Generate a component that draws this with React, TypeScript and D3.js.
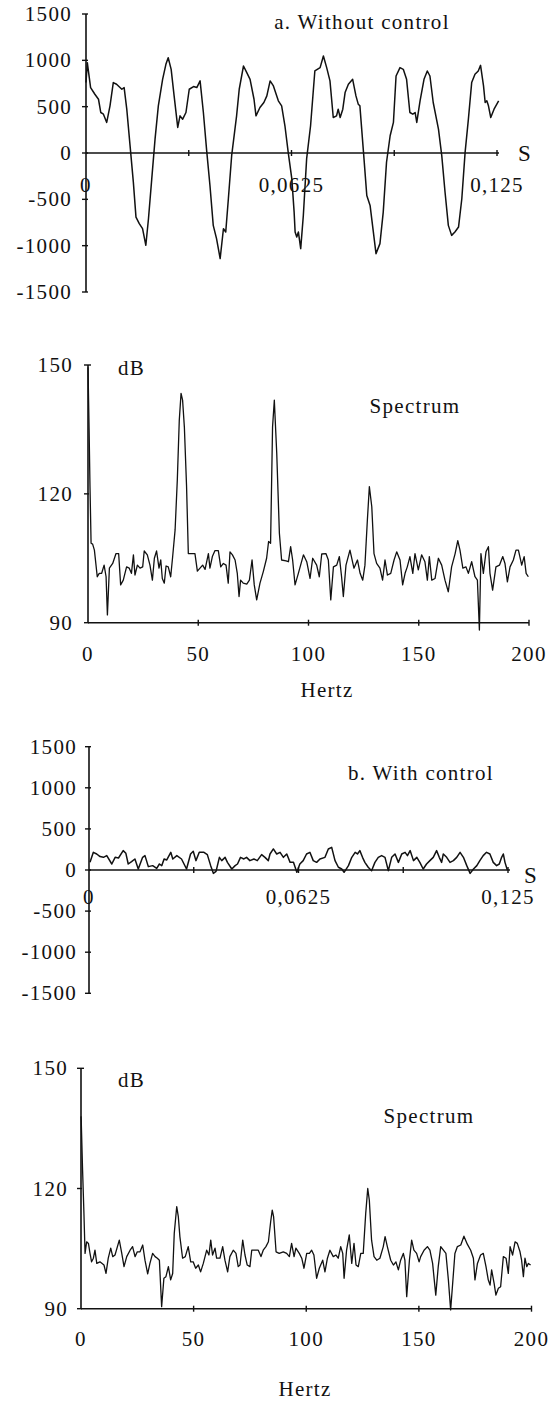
import React from "react";
import * as d3 from "d3";

// a. without control — time (ms) vs amplitude
const signalA: [number, number][] = [
  [0, 760], [0.4, 975], [1.4, 706], [2.7, 634], [3.8, 580], [4.5, 437], [5.3, 419], [6.3, 330], [7.3, 509], [8.3, 760],
  [9.3, 742], [10.9, 688], [11.6, 706], [12.4, 473], [13.4, 79], [14.4, -315], [15.2, -692], [16.2, -763], [17.2, -817],
  [18.2, -996], [19.0, -709], [20.0, -279], [21.0, 150], [22.0, 509], [23.3, 795], [24.3, 957], [25.0, 1028], [25.9, 903],
  [26.8, 616], [27.9, 276], [28.6, 401], [29.4, 365], [30.4, 437], [31.4, 688], [32.7, 717], [33.7, 706], [34.7, 778],
  [35.7, 437], [36.7, 25], [37.7, -351], [38.7, -781], [39.7, -924], [40.8, -1139], [41.8, -817], [42.5, -853], [43.3, -494],
  [44.3, -29], [45.8, 401], [46.6, 688], [47.9, 939], [48.9, 867], [49.9, 795], [51.1, 580], [51.7, 401], [52.9, 491],
  [54.1, 545], [55.0, 616], [56.0, 778], [57.0, 724], [58.5, 563], [59.5, 509], [60.5, 294], [61.5, 7], [62.6, -279],
  [63.3, -638], [63.6, -853], [64.1, -906], [64.6, -853], [65.3, -1032], [66.1, -674], [67.1, -64], [68.3, 294], [69.6, 885],
  [71.2, 921], [72.2, 1046], [73.2, 921], [74.2, 778], [75.2, 383], [76.2, 401], [76.7, 473], [77.3, 383], [78.1, 473],
  [78.8, 652], [79.8, 742], [81.1, 795], [82.1, 616], [82.8, 527], [83.3, 509], [84.4, 7], [85.4, -459], [86.4, -566],
  [87.4, -853], [88.2, -1086], [89.4, -978], [90.4, -638], [91.4, -100], [92.5, 186], [93.5, 330], [94.3, 831], [95.5, 921],
  [96.5, 903], [97.5, 795], [98.5, 437], [99.4, 419], [100.1, 437], [100.6, 330], [101.6, 563], [102.8, 795], [103.8, 885],
  [104.6, 831], [105.6, 545], [107.2, 258], [108.2, -29], [109.2, -423], [110.2, -781], [111.2, -889], [112.2, -853],
  [113.3, -799], [114.3, -494], [115.3, 7], [116.3, 365], [117.3, 760], [118.3, 849], [119.3, 885], [120.0, 946],
  [120.9, 724], [121.4, 545], [121.9, 563], [122.4, 509], [123.1, 383], [124.1, 473], [125.5, 563],
];

// a. spectrum — Hz vs dB
const spectrumA: [number, number][] = [
  [0, 149.5], [0.5, 135], [0.9, 121.7], [1.4, 108.5], [2.1, 108.3], [2.9, 106.9], [4.2, 100.7], [5.1, 101.5], [6.2, 101.5],
  [7.3, 103.4], [8.2, 100.7], [8.8, 91.8], [9.7, 102.7], [11.2, 103.8], [12.7, 106.1], [13.9, 106.1], [14.8, 98.8],
  [16.0, 99.9], [17.5, 103.0], [18.7, 102.7], [19.7, 101.5], [20.6, 105.8], [21.3, 101.1], [22.4, 103.4], [23.6, 102.7],
  [24.8, 103.0], [25.5, 106.7], [26.9, 105.8], [28.1, 103.4], [29.2, 99.9], [30.1, 105.0], [31.1, 106.7], [32.2, 102.7],
  [33.0, 104.6], [33.7, 100.3], [34.6, 99.2], [35.4, 103.2], [36.4, 103.0], [37.5, 100.7], [38.4, 105.4], [39.5, 111.6],
  [40.5, 123.2], [41.4, 137.2], [42.2, 143.4], [42.9, 141.8], [43.7, 135.6], [44.7, 121.7], [45.5, 106.1], [47.0, 106.1],
  [48.5, 106.1], [49.6, 102.0], [50.8, 102.7], [52.0, 103.4], [53.1, 102.4], [54.6, 106.1], [55.3, 102.7], [56.4, 105.4],
  [57.6, 106.8], [59.1, 106.8], [60.2, 103.0], [61.4, 103.8], [62.6, 103.4], [63.6, 99.2], [64.4, 106.5], [65.5, 105.8],
  [66.7, 104.6], [67.7, 101.5], [68.5, 96.1], [69.2, 99.9], [70.4, 99.2], [72.0, 99.0], [73.2, 99.9], [74.4, 104.6],
  [75.4, 98.8], [76.5, 95.3], [78.0, 99.2], [79.5, 101.9], [81.0, 105.0], [81.9, 108.9], [82.8, 108.5], [83.7, 135.6],
  [84.5, 141.8], [85.6, 129.4], [86.8, 110.8], [87.8, 104.6], [89.8, 104.4], [90.9, 104.2], [91.9, 107.7], [92.8, 104.6],
  [93.9, 98.8], [95.4, 101.5], [97.7, 105.8], [99.2, 104.2], [100.7, 100.3], [101.9, 105.0], [103.7, 103.4], [104.9, 100.7],
  [106.0, 106.0], [107.9, 106.1], [109.0, 104.6], [110.1, 95.3], [111.3, 103.0], [112.8, 103.4], [114.0, 105.4],
  [115.0, 100.7], [115.8, 96.1], [117.0, 103.4], [118.8, 106.9], [120.6, 102.7], [122.2, 104.6], [123.4, 101.5],
  [124.6, 99.9], [125.6, 103.4], [126.7, 113.9], [127.6, 121.7], [128.7, 117.0], [129.7, 106.1], [130.9, 103.8],
  [132.4, 102.7], [133.6, 99.9], [134.7, 104.6], [135.8, 101.1], [137.3, 101.5], [138.8, 104.6], [140.0, 106.5],
  [141.5, 104.6], [142.7, 98.8], [143.8, 101.5], [144.8, 103.0], [146.0, 105.4], [147.3, 101.5], [148.3, 106.1],
  [149.8, 102.3], [151.3, 105.8], [152.8, 104.2], [153.9, 99.9], [154.8, 105.4], [155.9, 99.9], [157.4, 100.3],
  [158.9, 105.0], [160.4, 103.4], [161.9, 99.9], [163.4, 97.2], [164.9, 103.0], [166.5, 106.1], [167.7, 109.1],
  [168.7, 106.9], [170.0, 102.7], [171.4, 103.0], [172.5, 101.5], [174.0, 104.2], [175.5, 100.7], [176.6, 99.9],
  [177.5, 88.3], [178.2, 106.1], [179.3, 101.5], [180.5, 106.5], [181.6, 107.7], [182.3, 101.5], [183.5, 97.6],
  [185.0, 103.0], [186.6, 103.4], [188.1, 105.4], [189.1, 103.8], [190.2, 99.5], [191.4, 103.0], [192.9, 104.6],
  [194.1, 106.9], [195.2, 106.9], [196.7, 103.4], [197.8, 105.4], [198.7, 101.5], [199.7, 100.7],
];

// b. with control — time (ms) vs amplitude
const signalB: [number, number][] = [
  [0.3, 93], [1.3, 215], [2.3, 195], [3.3, 163], [4.3, 154], [5.3, 175], [6.8, 73], [7.8, 154], [8.8, 146], [10.2, 236],
  [11.0, 203], [11.7, 73], [12.7, 102], [13.7, 134], [14.7, 12], [16.0, 154], [16.7, 175], [17.7, 41], [19.0, 53],
  [20.2, 20], [21.0, 73], [21.7, 53], [22.4, 134], [23.2, 122], [24.4, 215], [25.0, 134], [26.2, 175], [27.6, 134],
  [29.1, 12], [30.3, 195], [31.1, 228], [31.9, 114], [32.9, 215], [34.3, 215], [35.3, 187], [36.3, 53], [37.1, -41],
  [37.9, -16], [38.9, 154], [39.6, 114], [40.6, 154], [41.3, 93], [42.6, 12], [43.6, 53], [44.3, 73], [45.2, 154],
  [46.2, 134], [47.0, 154], [48.0, 114], [49.2, 134], [50.2, 114], [51.5, 187], [52.5, 154], [53.5, 114], [54.0, 195],
  [55.0, 256], [56.0, 195], [57.0, 215], [58.0, 154], [59.0, 195], [60.0, 93], [61.0, 93], [62.0, -28], [62.9, 73],
  [63.9, 114], [64.9, 195], [65.9, 215], [66.9, 114], [67.9, 93], [68.9, 134], [70.4, 154], [71.4, 256], [72.4, 276],
  [73.4, 114], [74.4, 33], [75.4, 12], [76.1, -28], [77.4, 53], [78.4, 154], [79.4, 215], [80.1, 195], [80.8, 236],
  [81.6, 154], [82.3, 93], [83.3, 33], [84.3, -8], [85.3, 93], [86.3, 154], [87.3, 175], [88.3, 154], [89.3, -8],
  [90.3, 154], [91.3, 195], [92.3, 93], [93.3, 195], [94.3, 215], [95.0, 175], [95.8, 236], [96.8, 114], [97.8, 154],
  [98.7, 93], [99.7, 12], [100.7, 73], [101.7, 114], [102.7, 154], [103.7, 236], [104.5, 154], [105.2, 93], [105.7, 195],
  [106.7, 154], [107.7, 93], [108.7, 114], [109.7, 154], [110.7, 215], [111.7, 154], [112.7, 53], [113.7, -41],
  [114.7, 12], [115.7, 53], [116.6, 114], [117.6, 175], [118.6, 215], [119.6, 195], [120.6, 93], [121.6, 53],
  [122.4, 73], [123.1, 154], [123.6, 195], [124.1, 93], [124.8, 0],
];

// b. spectrum — Hz vs dB
const spectrumB: [number, number][] = [
  [0, 138], [0.1, 137.1], [0.7, 124.6], [1.3, 113.8], [1.8, 103.8], [2.5, 106.7], [3.3, 106.3], [4.0, 103.8], [4.7, 101.7],
  [5.5, 102.6], [6.2, 104.6], [7.0, 101.3], [8.4, 101.7], [10.2, 100.9], [11.1, 98.8], [12.1, 102.6], [13.2, 105.1],
  [14.1, 103.0], [15.1, 103.4], [17.0, 107.1], [18.1, 103.8], [19.1, 100.5], [20.3, 103.0], [21.8, 104.6], [22.9, 105.5],
  [24.0, 103.0], [25.0, 104.2], [26.2, 104.2], [27.4, 105.9], [28.4, 102.1], [29.6, 98.7], [30.6, 101.3], [31.8, 103.8],
  [32.9, 103.0], [33.9, 102.6], [34.8, 102.1], [35.8, 90.5], [36.8, 97.6], [37.7, 98.0], [38.8, 100.5], [39.8, 97.2],
  [40.7, 98.8], [41.4, 108.8], [42.5, 115.5], [43.2, 113.0], [43.9, 108.0], [45.1, 102.6], [46.3, 103.0], [47.6, 105.5],
  [48.7, 101.7], [49.8, 101.7], [50.9, 100.1], [52.1, 100.9], [53.1, 99.2], [54.3, 101.3], [55.8, 104.6], [56.8, 103.4],
  [57.6, 107.1], [58.4, 103.4], [59.5, 105.1], [60.2, 102.6], [61.7, 102.6], [62.9, 105.5], [63.9, 102.1], [65.1, 99.2],
  [66.1, 103.0], [67.6, 104.6], [68.8, 103.8], [69.8, 100.5], [70.6, 100.9], [71.8, 107.1], [72.8, 103.4], [73.8, 100.9],
  [75.0, 100.5], [75.8, 104.6], [77.2, 104.6], [78.7, 104.6], [79.9, 103.0], [80.9, 104.6], [82.1, 105.5], [83.2, 106.7],
  [84.2, 111.7], [84.9, 114.6], [85.5, 113.0], [86.6, 104.2], [88.0, 103.8], [89.8, 104.2], [91.3, 103.8], [92.5, 103.0],
  [93.5, 106.3], [94.6, 103.0], [95.4, 105.1], [96.9, 103.8], [98.0, 102.6], [99.0, 100.1], [100.2, 103.8], [101.4, 103.8],
  [102.4, 104.6], [103.4, 103.4], [104.6, 97.6], [105.8, 100.1], [107.3, 102.1], [108.3, 99.2], [109.4, 102.6],
  [110.5, 104.6], [112.0, 103.0], [113.2, 103.4], [114.2, 102.6], [115.3, 105.5], [116.2, 103.8], [116.8, 97.6],
  [117.9, 104.6], [119.1, 108.4], [120.2, 101.3], [121.2, 106.3], [122.1, 100.9], [123.1, 100.5], [124.2, 103.8],
  [125.3, 103.8], [126.4, 113.8], [127.3, 120.0], [128.0, 117.1], [129.0, 107.1], [130.1, 103.0], [131.3, 102.1],
  [132.7, 102.6], [134.2, 105.5], [135.0, 108.0], [136.0, 105.5], [137.5, 102.1], [138.7, 100.9], [139.8, 101.7],
  [140.9, 99.7], [141.9, 102.1], [143.1, 103.8], [143.8, 102.1], [144.6, 93.0], [145.8, 102.1], [146.8, 107.1],
  [147.8, 104.6], [149.0, 103.8], [150.1, 101.7], [150.8, 103.0], [152.3, 104.6], [153.8, 105.5], [154.9, 104.6],
  [156.1, 101.3], [157.5, 93.4], [158.6, 100.5], [159.7, 105.5], [160.9, 104.6], [162.0, 103.8], [163.1, 97.2],
  [164.1, 89.7], [165.0, 96.3], [166.0, 103.8], [167.1, 105.5], [168.6, 105.9], [170.0, 108.1], [171.5, 106.1],
  [173.0, 104.6], [174.2, 102.6], [174.9, 97.2], [176.0, 101.3], [177.4, 103.4], [178.6, 103.8], [179.8, 100.5],
  [180.8, 97.2], [181.6, 95.9], [182.3, 99.7], [183.4, 96.3], [184.2, 93.4], [185.3, 95.1], [186.3, 95.5], [187.5, 103.0],
  [188.7, 102.6], [189.7, 98.8], [190.5, 105.5], [191.6, 103.4], [192.7, 106.7], [193.7, 106.3], [194.9, 104.2],
  [195.6, 102.1], [196.4, 98.0], [197.1, 102.6], [197.9, 100.5], [198.6, 101.3], [199.6, 100.9],
];

const timeTicks = [0, 31.25, 62.5, 93.75, 125]; // ms
const timeTickLabels = ["0", "", "0,0625", "", "0,125"];
const ampTicks = [-1500, -1000, -500, 0, 500, 1000, 1500];
const dbTicks = [90, 120, 150];
const hzTicks = [0, 50, 100, 150, 200];

const FONT = "'Liberation Serif', 'Times New Roman', Times, serif";
const txt = { fontFamily: FONT, fontSize: 21, letterSpacing: 1.3, fill: "#111" } as const;

type Pt = [number, number];

function TimePanel(p: {
  data: Pt[]; xr: [number, number]; yr: [number, number]; yLabRight: number; xLabY: number;
  title: string; titleX: number; titleY: number; sX: number; sY: number;
}) {
  const x = d3.scaleLinear().domain([0, 125]).range(p.xr);
  const y = d3.scaleLinear().domain([1500, -1500]).range(p.yr);
  const line = d3.line<Pt>().x(d => x(d[0])).y(d => y(d[1]));
  const x0 = x(0), y0 = y(0);
  return (
    <g>
      <line x1={x0} x2={x0} y1={y(1500)} y2={y(-1500)} stroke="#111" strokeWidth={1.6} />
      <line x1={x0} x2={x(125) + 2} y1={y0} y2={y0} stroke="#111" strokeWidth={1.6} />
      {ampTicks.map(t => (
        <g key={t}>
          <line x1={x0 - 4} x2={x0 + 2} y1={y(t)} y2={y(t)} stroke="#111" strokeWidth={1.4} />
          <text {...txt} x={p.yLabRight} y={y(t)} textAnchor="end" dominantBaseline="central">{t}</text>
        </g>
      ))}
      {timeTicks.map((t, i) => (
        <g key={t}>
          {i > 0 && <line x1={x(t)} x2={x(t)} y1={y0 - 3} y2={y0 + 3} stroke="#111" strokeWidth={1.4} />}
          {timeTickLabels[i] && (
            <text {...txt} x={x(t)} y={p.xLabY} textAnchor="middle">{timeTickLabels[i]}</text>
          )}
        </g>
      ))}
      <path d={line(p.data) || ""} fill="none" stroke="#111" strokeWidth={1.5} strokeLinejoin="round" />
      <text {...txt} x={p.titleX} y={p.titleY} textAnchor="middle">{p.title}</text>
      <text {...txt} x={p.sX} y={p.sY} textAnchor="middle" fontSize={23}>S</text>
    </g>
  );
}

function SpectrumPanel(p: {
  data: Pt[]; xr: [number, number]; yr: [number, number]; yLabRight: number; xLabY: number;
  dbY: number; specX: number; specY: number; hzX: number; hzY: number;
}) {
  const x = d3.scaleLinear().domain([0, 200]).range(p.xr);
  const y = d3.scaleLinear().domain([150, 90]).range(p.yr);
  const line = d3.line<Pt>().x(d => x(d[0])).y(d => y(d[1]));
  const x0 = x(0), yb = y(90);
  return (
    <g>
      <line x1={x0} x2={x0} y1={y(150)} y2={yb} stroke="#111" strokeWidth={1.6} />
      <line x1={x0} x2={x(200)} y1={yb} y2={yb} stroke="#111" strokeWidth={1.6} />
      {dbTicks.map(t => (
        <g key={t}>
          <line x1={x0 - 4} x2={x0 + (t === 150 ? 3 : 1)} y1={y(t)} y2={y(t)} stroke="#111" strokeWidth={1.4} />
          <text {...txt} x={p.yLabRight} y={y(t)} textAnchor="end" dominantBaseline="central">{t}</text>
        </g>
      ))}
      {hzTicks.map(t => (
        <g key={t}>
          {t > 0 && <line x1={x(t)} x2={x(t)} y1={yb - 3} y2={yb + 3} stroke="#111" strokeWidth={1.4} />}
          <text {...txt} x={x(t)} y={p.xLabY} textAnchor="middle">{t}</text>
        </g>
      ))}
      <path d={line(p.data) || ""} fill="none" stroke="#111" strokeWidth={1.3} strokeLinejoin="round" />
      <text {...txt} x={118} y={p.dbY}>dB</text>
      <text {...txt} x={p.specX} y={p.specY} textAnchor="middle">Spectrum</text>
      <text {...txt} x={p.hzX} y={p.hzY} textAnchor="middle">Hertz</text>
    </g>
  );
}

export default function App() {
  return (
    <svg width={559} height={1401} style={{ position: "absolute", left: 0, top: 0, background: "#fff" }}>
      <rect width={559} height={1401} fill="#fff" />
      <TimePanel data={signalA} xr={[86, 497]} yr={[14, 292]} yLabRight={72} xLabY={192}
        title="a. Without control" titleX={362} titleY={29} sX={525} sY={161} />
      <SpectrumPanel data={spectrumA} xr={[88, 529]} yr={[365, 622.7]} yLabRight={73} xLabY={661}
        dbY={375} specX={415} specY={413} hzX={327} hzY={697} />
      <TimePanel data={signalB} xr={[89, 508]} yr={[746.7, 993.3]} yLabRight={77} xLabY={904}
        title="b. With control" titleX={421} titleY={780} sX={531} sY={883} />
      <SpectrumPanel data={spectrumB} xr={[81, 531.5]} yr={[1068.3, 1308.7]} yLabRight={68} xLabY={1346}
        dbY={1087} specX={429} specY={1123} hzX={305} hzY={1396} />
    </svg>
  );
}
